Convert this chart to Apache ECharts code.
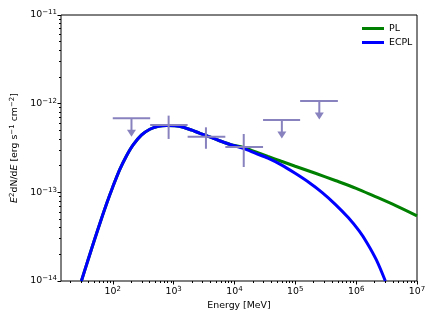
<!DOCTYPE html>
<html>
<head>
<meta charset="utf-8">
<title>SED</title>
<script src="https://cdn.jsdelivr.net/npm/echarts@6/dist/echarts.min.js"></script>
<style>
    html, body { margin: 0; padding: 0; background: #fff; }
    #chart { width: 436px; height: 327px; }
</style>
</head>
<body>
<div id="chart"></div>
<script>
// model curves, energy in MeV, E^2 dN/dE in erg s^-1 cm^-2
var plEnergy = [30.5, 39.8, 50.1, 63.1, 79.4, 100, 130, 166, 216, 295, 407, 562, 767, 1050, 1440, 2000, 2710, 3800, 5430, 8710,
    14000, 22400, 35500, 58900, 99500, 214000, 454000, 1000000, 1940000, 4470000, 10000000];
var plFlux = [1.0e-14, 1.78e-14, 2.92e-14, 4.73e-14, 7.50e-14, 1.15e-13, 1.80e-13, 2.54e-13, 3.43e-13, 4.42e-13, 5.15e-13, 5.56e-13, 5.69e-13, 5.64e-13, 5.42e-13, 5.02e-13, 4.63e-13, 4.25e-13, 3.87e-13, 3.45e-13,
    3.20e-13, 2.85e-13, 2.54e-13, 2.24e-13, 1.97e-13, 1.64e-13, 1.36e-13, 1.11e-13, 9.12e-14, 7.08e-14, 5.43e-14];

var ecplEnergy = [30.5, 39.8, 50.1, 63.1, 79.4, 100, 130, 166, 216, 295, 407, 562, 767, 1050, 1440, 2000, 2710, 3800, 5430, 8710,
    14000, 22400, 35500, 58900, 99500, 166000, 274000, 454000, 741000, 1120000, 1510000, 2140000, 3020000];
var ecplFlux = [1.0e-14, 1.78e-14, 2.92e-14, 4.73e-14, 7.50e-14, 1.15e-13, 1.80e-13, 2.54e-13, 3.43e-13, 4.42e-13, 5.15e-13, 5.56e-13, 5.69e-13, 5.64e-13, 5.42e-13, 5.02e-13, 4.63e-13, 4.25e-13, 3.87e-13, 3.45e-13,
    3.13e-13, 2.75e-13, 2.43e-13, 2.04e-13, 1.64e-13, 1.30e-13, 1.00e-13, 7.33e-14, 5.19e-14, 3.67e-14, 2.69e-14, 1.74e-14, 1.0e-14];

// binned spectral points
var binLow = [100, 412, 1700, 7080, 29500, 120000];
var binHigh = [412, 1700, 7080, 29500, 120000, 501000];
var binCenter = [203, 828, 3400, 14200, 60100, 248000];
var pointFlux = [6.83e-13, 5.75e-13, 4.24e-13, 3.25e-13, 6.55e-13, 1.07e-12];
var fluxLow = [null, 4.0e-13, 3.10e-13, 1.93e-13, null, null];
var fluxHigh = [null, 7.33e-13, 5.41e-13, 4.55e-13, null, null];
var upperLimit = [true, false, false, false, true, true];

// axes (exponents of ten)
var xRange = [14.1, 1e7];
var yRange = [1e-14, 1e-11];
var xTickExp = [2, 3, 4, 5, 6, 7];
var yTickExp = [-14, -13, -12, -11];
var minorMult = [2, 3, 4, 5, 6, 7, 8, 9];

var lg = Math.log10;
var pointColor = '#8882bf';
var font = 'DejaVu Sans';

function minorTicks(range) {
    var out = [];
    var a = Math.floor(lg(range[0])), b = Math.ceil(lg(range[1]));
    for (var d = a; d < b; d++) {
        minorMult.forEach(function (m) {
            var v = m * Math.pow(10, d);
            if (v >= range[0] && v <= range[1]) out.push(lg(v));
        });
    }
    return out;
}

function toXY(xs, ys) {
    return xs.map(function (x, i) { return [lg(x), lg(ys[i])]; });
}

function powLabel(v) {
    var e = Math.round(v);
    return '{b|10}{s|' + (e < 0 ? '\u2212' + (-e) : e) + '}';
}

var labelRich = {
    b: { fontFamily: font, fontSize: 9.4, color: '#000', lineHeight: 12 },
    s: { fontFamily: font, fontSize: 7, color: '#000', lineHeight: 6, verticalAlign: 'top' }
};

var pointRows = binCenter.map(function (c, i) {
    return [lg(binLow[i]), lg(binHigh[i]), lg(c), lg(pointFlux[i]),
        lg(fluxLow[i] || pointFlux[i]), lg(fluxHigh[i] || pointFlux[i]), upperLimit[i] ? 1 : 0];
});

function renderPoint(params, api) {
    var y = api.value(3);
    var a = api.coord([api.value(0), y]);
    var b = api.coord([api.value(1), y]);
    var c = api.coord([api.value(2), y]);
    var st = { stroke: pointColor, lineWidth: 2 };
    var kids = [{ type: 'line', shape: { x1: a[0], y1: a[1], x2: b[0], y2: b[1] }, style: st }];
    if (api.value(6)) {
        // upper limit arrow
        var tip = c[1] + 18.5;
        kids.push({ type: 'line', shape: { x1: c[0], y1: c[1], x2: c[0], y2: tip - 6 }, style: st });
        kids.push({ type: 'polygon', shape: { points: [[c[0] - 4.5, tip - 7], [c[0] + 4.5, tip - 7], [c[0], tip]] },
            style: { fill: pointColor } });
    } else {
        var lo = api.coord([api.value(2), api.value(4)]);
        var hi = api.coord([api.value(2), api.value(5)]);
        kids.push({ type: 'line', shape: { x1: c[0], y1: hi[1], x2: c[0], y2: lo[1] }, style: st });
    }
    return { type: 'group', children: kids };
}

var myChart = echarts.init(document.getElementById('chart'));

var options = {
    animation: false,
    backgroundColor: '#fff',
    grid: {
        left: 61, right: 19, top: 15, bottom: 46,
        show: true, borderColor: '#000', borderWidth: 1, backgroundColor: 'transparent',
        containLabel: false, outerBoundsMode: 'none'
    },
    legend: {
        orient: 'vertical', left: 357, top: 19, itemWidth: 22, itemHeight: 3, itemGap: 5,
        icon: 'rect',
        textStyle: { fontFamily: font, fontSize: 9.4, color: '#000' },
        data: ['PL', 'ECPL']
    },
    xAxis: [
        {
            type: 'value', min: lg(xRange[0]), max: lg(xRange[1]),
            axisLine: { show: false }, splitLine: { show: false },
            axisTick: { show: true, customValues: xTickExp, length: 3.5, lineStyle: { color: '#000', width: 1 } },
            axisLabel: { customValues: xTickExp, formatter: powLabel, rich: labelRich, margin: 5 },
            name: 'Energy [MeV]', nameLocation: 'middle', nameGap: 19,
            nameTextStyle: { fontFamily: font, fontSize: 9.4, color: '#000' }
        },
        {
            type: 'value', min: lg(xRange[0]), max: lg(xRange[1]), position: 'bottom',
            axisLine: { show: false }, splitLine: { show: false }, axisLabel: { show: false },
            axisTick: { show: true, customValues: minorTicks(xRange), length: 2, lineStyle: { color: '#000', width: 1 } }
        }
    ],
    yAxis: [
        {
            type: 'value', min: lg(yRange[0]), max: lg(yRange[1]), interval: 1,
            axisLine: { show: false }, splitLine: { show: false },
            axisTick: { show: true, customValues: yTickExp, length: 3.5, lineStyle: { color: '#000', width: 1 } },
            axisLabel: { customValues: yTickExp, formatter: powLabel, rich: labelRich, margin: 4 },
            name: '{i|E}{s|2}{n|dN/d}{i|E}{n| [erg s}{s|\u22121}{n| cm}{s|\u22122}{n|]}',
            nameLocation: 'middle', nameGap: 31, nameRotate: 90,
            nameTextStyle: {
                rich: {
                    n: { fontFamily: font, fontSize: 9.4, color: '#000', lineHeight: 12 },
                    i: { fontFamily: font, fontSize: 9.4, color: '#000', fontStyle: 'italic', lineHeight: 12 },
                    s: { fontFamily: font, fontSize: 7, color: '#000', lineHeight: 6, verticalAlign: 'top' }
                }
            }
        },
        {
            type: 'value', min: lg(yRange[0]), max: lg(yRange[1]), position: 'left',
            axisLine: { show: false }, splitLine: { show: false }, axisLabel: { show: false },
            axisTick: { show: true, customValues: minorTicks(yRange), length: 2, lineStyle: { color: '#000', width: 1 } }
        }
    ],
    series: [
        {
            name: 'PL', type: 'line', data: toXY(plEnergy, plFlux),
            showSymbol: false, smooth: 0.3, color: '#008000',
            lineStyle: { width: 3, color: '#008000' }, z: 2
        },
        {
            name: 'ECPL', type: 'line', data: toXY(ecplEnergy, ecplFlux),
            showSymbol: false, smooth: 0.3, color: '#0000ff',
            lineStyle: { width: 3, color: '#0000ff' }, z: 3
        },
        {
            name: 'points', type: 'custom', data: pointRows, renderItem: renderPoint,
            encode: { x: [0, 1, 2], y: [3, 4, 5] }, z: 4
        }
    ]
};

myChart.setOption(options);
</script>
</body>
</html>
